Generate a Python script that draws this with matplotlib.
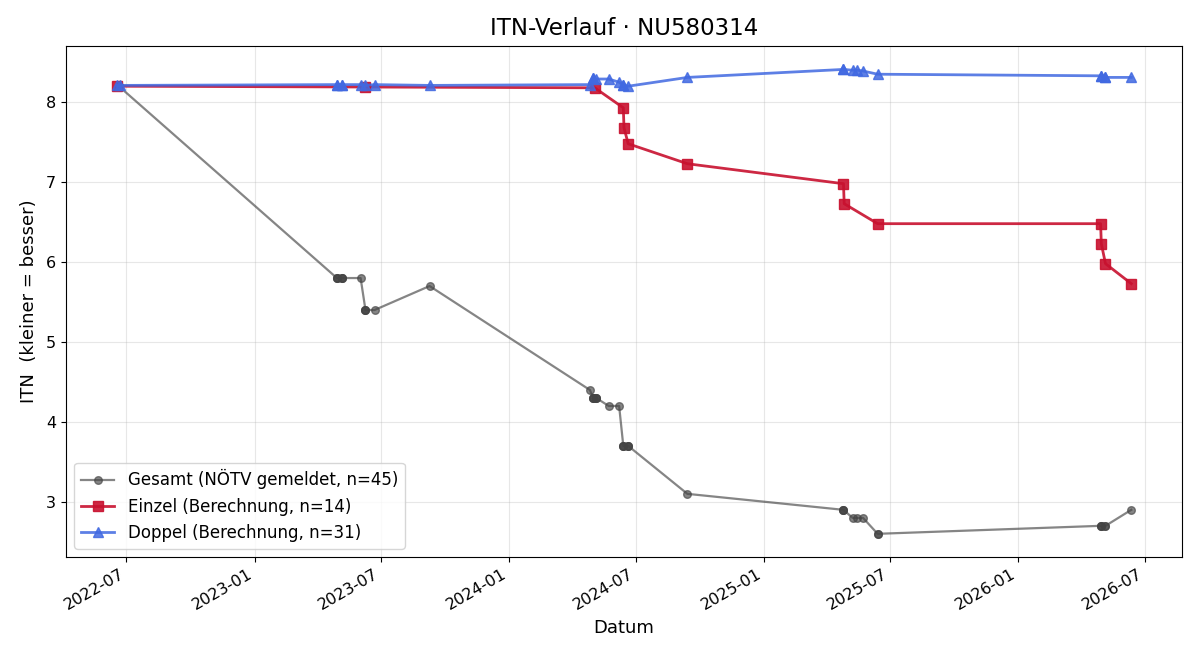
import pandas as pd
import matplotlib
matplotlib.use("Agg")
import matplotlib.pyplot as plt
import matplotlib.dates as mdates

# Gesamt (NÖTV gemeldet) - repeated dates = several matches on that day
gesamt_dates = (
    ["2022-06-20"] * 3
    + ["2023-04-29"] * 3 + ["2023-05-06"] * 3
    + ["2023-06-02"] + ["2023-06-09"] * 3 + ["2023-06-22"]
    + ["2023-09-09"]
    + ["2024-04-26"] + ["2024-05-01"] * 3 + ["2024-05-05"] * 3
    + ["2024-05-23"] + ["2024-06-07"]
    + ["2024-06-13"] * 3 + ["2024-06-20"] * 3
    + ["2024-09-13"]
    + ["2025-04-25"] * 3 + ["2025-05-08"] + ["2025-05-15"] + ["2025-05-23"]
    + ["2025-06-13"] * 2
    + ["2026-04-29"] * 3 + ["2026-05-06"] * 2
    + ["2026-06-12"]
)
gesamt_itn = (
    [8.2] * 3
    + [5.8] * 3 + [5.8] * 3
    + [5.8] + [5.4] * 3 + [5.4]
    + [5.7]
    + [4.4] + [4.3] * 3 + [4.3] * 3
    + [4.2] + [4.2]
    + [3.7] * 3 + [3.7] * 3
    + [3.1]
    + [2.9] * 3 + [2.8] + [2.8] + [2.8]
    + [2.6] * 2
    + [2.7] * 3 + [2.7] * 2
    + [2.9]
)

einzel_dates = ["2022-06-17", "2023-06-09", "2024-05-03", "2024-06-13", "2024-06-14",
                "2024-06-20", "2024-09-13", "2025-04-25", "2025-04-26", "2025-06-13",
                "2026-04-29", "2026-04-30", "2026-05-06", "2026-06-12"]
einzel_itn = [8.20, 8.19, 8.18, 7.93, 7.68, 7.48, 7.23, 6.98, 6.73, 6.48,
              6.48, 6.23, 5.98, 5.73]

doppel_dates = ["2022-06-17", "2022-06-22",
                "2023-04-29", "2023-04-29", "2023-05-06", "2023-05-06",
                "2023-06-02", "2023-06-09", "2023-06-22",
                "2023-09-09",
                "2024-04-26", "2024-05-01", "2024-05-01", "2024-05-05", "2024-05-23",
                "2024-06-07", "2024-06-13", "2024-06-13", "2024-06-20",
                "2024-09-13",
                "2025-04-25", "2025-04-25", "2025-05-08", "2025-05-15", "2025-05-23",
                "2025-06-13",
                "2026-04-29", "2026-04-29", "2026-05-06", "2026-05-06",
                "2026-06-12"]
doppel_itn = [8.21, 8.21,
              8.22, 8.22, 8.22, 8.22,
              8.22, 8.21, 8.22,
              8.21,
              8.22, 8.30, 8.30, 8.29, 8.29,
              8.25, 8.21, 8.21, 8.20,
              8.31,
              8.41, 8.41, 8.40, 8.40, 8.39,
              8.35,
              8.33, 8.33, 8.31, 8.31,
              8.31]


def main():
    fig, ax = plt.subplots(figsize=(12, 6.6), dpi=100)

    ax.plot(pd.to_datetime(gesamt_dates), gesamt_itn, color="#444444", alpha=0.65,
            lw=1.6, marker="o", ms=5.5,
            label=f"Gesamt (NÖTV gemeldet, n={len(gesamt_itn)})")
    ax.plot(pd.to_datetime(einzel_dates), einzel_itn, color="#c8102e", alpha=0.9,
            lw=2, marker="s", ms=7,
            label=f"Einzel (Berechnung, n={len(einzel_itn)})")
    ax.plot(pd.to_datetime(doppel_dates), doppel_itn, color="royalblue", alpha=0.85,
            lw=2, marker="^", ms=7,
            label=f"Doppel (Berechnung, n={len(doppel_itn)})")

    ax.set_title("ITN-Verlauf · NU580314", fontsize=16.5, pad=8)
    ax.set_xlabel("Datum", fontsize=13)
    ax.set_ylabel("ITN  (kleiner = besser)", fontsize=13, labelpad=6)
    ax.grid(True, alpha=0.3)
    ax.legend(loc="lower left", fontsize=12)
    ax.xaxis.set_major_locator(mdates.MonthLocator(bymonth=[1, 7]))
    ax.xaxis.set_major_formatter(mdates.DateFormatter("%Y-%m"))
    ax.tick_params(labelsize=11.5)
    fig.autofmt_xdate()
    fig.subplots_adjust(left=0.055, right=0.985, top=0.930, bottom=0.156)
    fig.savefig("out.png", dpi=100)
    plt.close(fig)


if __name__ == "__main__":
    main()
